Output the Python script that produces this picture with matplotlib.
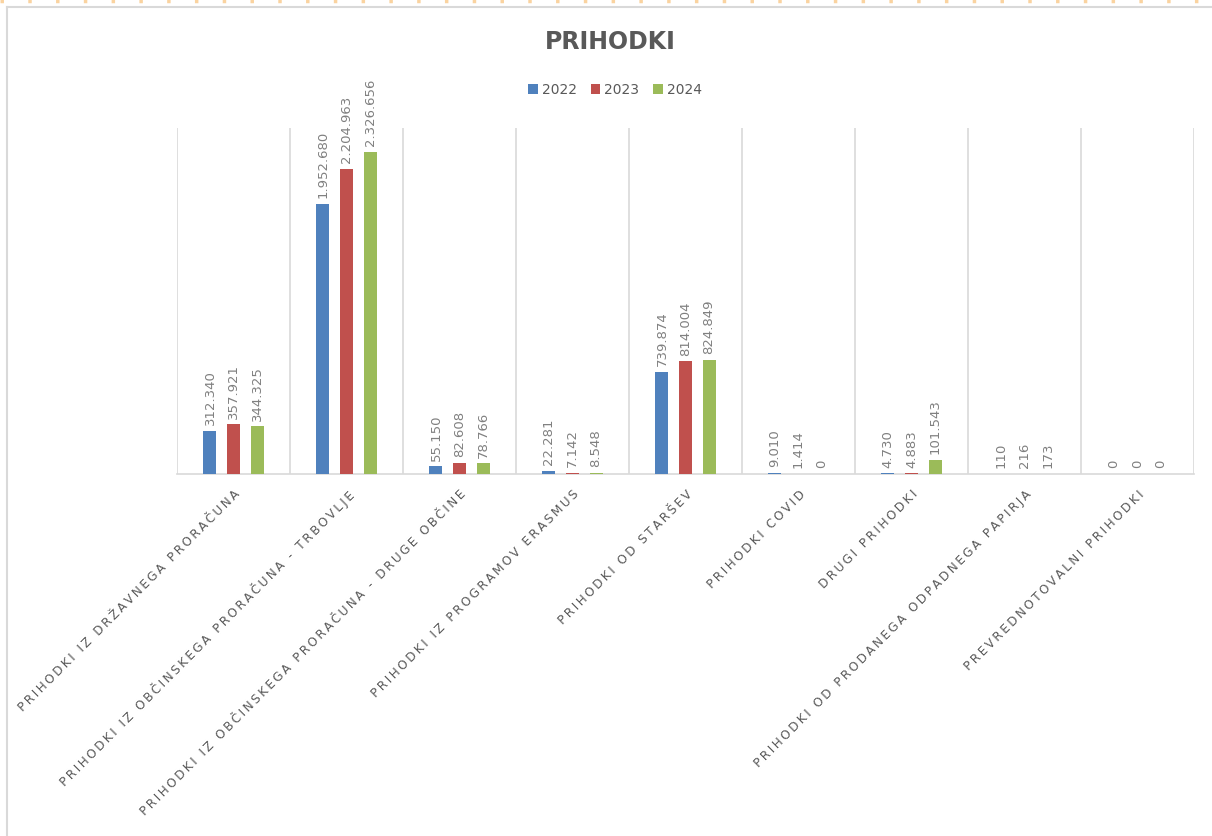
import matplotlib.pyplot as plt
import numpy as np
from matplotlib.lines import Line2D

categories = ['PRIHODKI IZ DRŽAVNEGA PRORAČUNA',
              'PRIHODKI IZ OBČINSKEGA PRORAČUNA - TRBOVLJE',
              'PRIHODKI IZ OBČINSKEGA PRORAČUNA - DRUGE OBČINE',
              'PRIHODKI IZ PROGRAMOV ERASMUS',
              'PRIHODKI OD STARŠEV',
              'PRIHODKI COVID',
              'DRUGI PRIHODKI',
              'PRIHODKI OD PRODANEGA ODPADNEGA PAPIRJA',
              'PREVREDNOTOVALNI PRIHODKI']
years = ['2022', '2023', '2024']
v2022 = [312340, 1952680, 55150, 22281, 739874, 9010, 4730, 110, 0]
v2023 = [357921, 2204963, 82608, 7142, 814004, 1414, 4883, 216, 0]
v2024 = [344325, 2326656, 78766, 8548, 824849, 0, 101543, 173, 0]
colors = ['#4F81BD', '#C0504D', '#9BBB59']

fig = plt.figure(figsize=(12.12, 8.36), dpi=100)
ax = fig.add_axes([177/1212, 1-474/836, (1194-177)/1212, (474-128)/836])

x = np.arange(len(categories))
step = 0.208
width = 0.115
for i, (vals, yr, c) in enumerate(zip([v2022, v2023, v2024], years, colors)):
    pos = x + (i-1)*step
    ax.bar(pos, vals, width, color=c, label=yr, zorder=3)
    for px, v in zip(pos, vals):
        ax.annotate(f"{v:,}".replace(",", "."), (px, v), xytext=(0, 4),
                    textcoords='offset points', rotation=90, ha='center',
                    va='bottom', fontsize=9.5, color='#808080')

# wide letter spacing like the original axis labels (thin spaces)
spaced = ['\u2009'.join(c) for c in categories]

ax.set_xlim(-0.5, len(categories)-0.5)
ax.set_ylim(0, 2500000)
ax.set_yticks([])
ax.set_xticks(x)
ax.set_xticklabels(spaced, rotation=45, ha='right', va='top',
                   rotation_mode='anchor', fontsize=8.7, color='#595959')
ax.tick_params(axis='x', length=0, pad=10)
for b in np.arange(-0.5, len(categories), 1):
    ax.axvline(b, color='#D9D9D9', lw=1.2, zorder=1)
for s in ['top', 'right', 'left']:
    ax.spines[s].set_visible(False)
ax.spines['bottom'].set_color('#D9D9D9')
ax.spines['bottom'].set_linewidth(1.2)

fig.text(610/1212, 1-42/836, 'PRIHODKI', ha='center', va='center',
         fontsize=17, fontweight='bold', color='#595959')
fig.legend(loc='center', bbox_to_anchor=(615/1212, 1-90/836), ncol=3,
           frameon=False, fontsize=10, handlelength=0.7, handleheight=0.7,
           handletextpad=0.3, columnspacing=1.0, labelcolor='#595959')

# chart frame and top dotted edge
fig.add_artist(Line2D([7/1212, 7/1212], [0, 1-7/836], color='#D9D9D9', lw=1.5))
fig.add_artist(Line2D([7/1212, 1], [1-7/836, 1-7/836], color='#D9D9D9', lw=1.5))
fig.add_artist(Line2D([0, 1], [1-1/836, 1-1/836], color='#FAD3A0', lw=2.5,
                      linestyle=(0, (1, 7))))

plt.savefig('out.png', dpi=100)
